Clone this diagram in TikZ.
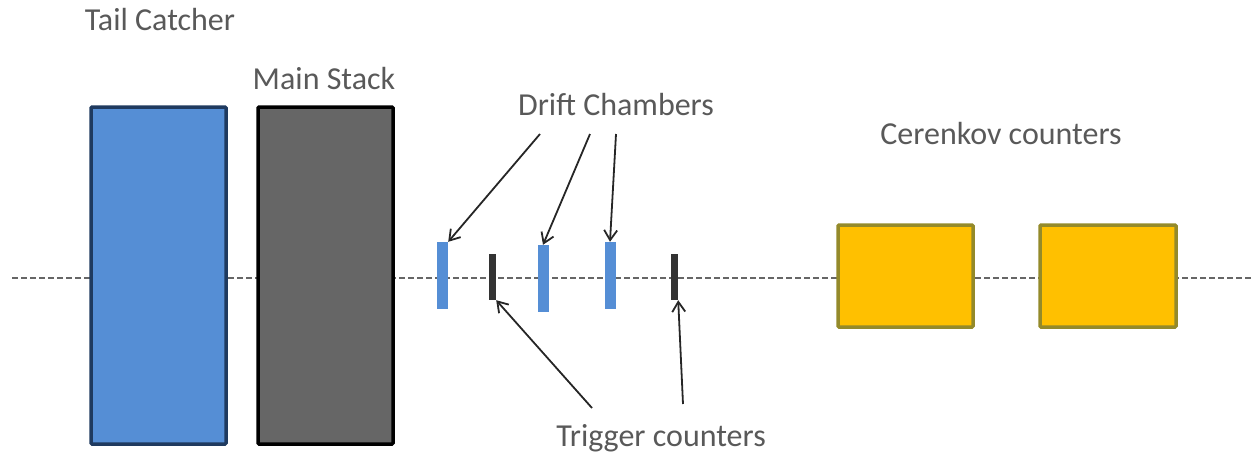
\documentclass[tikz,border=0pt]{standalone}
\usepackage{fontspec}
\setmainfont{Carlito}
\usetikzlibrary{arrows.meta}
\definecolor{txt}{HTML}{595959}
\definecolor{tcfill}{HTML}{558ED5}
\definecolor{tcline}{HTML}{1F3A5F}
\definecolor{msfill}{HTML}{666666}
\definecolor{dcblue}{HTML}{558ED5}
\definecolor{trig}{HTML}{333333}
\definecolor{cfill}{HTML}{FFC000}
\definecolor{cline}{HTML}{948A2A}
\tikzset{
  lbl/.style={text=txt, font=\fontsize{32}{38}\selectfont, anchor=base, inner sep=0pt},
  bigbox/.style={line width=3.5pt, rounded corners=1pt},
  bar/.style={draw=none, inner sep=0pt},
  ptr/.style={-{Straight Barb[length=10pt,width=13pt,line width=1.8pt]}, line width=1.8pt, black!85},
  axis/.style={dash pattern=on 6pt off 3pt, line width=2pt, black!60}
}
\begin{document}
\begin{tikzpicture}[x=1pt,y=-1pt]
\useasboundingbox (0,0) rectangle (1253,453);
\coordinate (axl) at (12,278);
\coordinate (axr) at (1253,278);
\draw[axis] (axl) -- (axr);
% big boxes
\draw[bigbox, draw=tcline, fill=tcfill] (91,107) rectangle (226,444);
\draw[bigbox, draw=black, fill=msfill] (258,107) rectangle (393,444);
\draw[bigbox, draw=cline, fill=cfill] (838,225) rectangle (973,327);
\draw[bigbox, draw=cline, fill=cfill] (1040,225) rectangle (1176,327);
% drift chambers
\node[bar, fill=dcblue, minimum width=11pt, minimum height=67pt] (dc1) at (442.5,275.5) {};
\node[bar, fill=dcblue, minimum width=11pt, minimum height=67pt] (dc2) at (543,278.5) {};
\node[bar, fill=dcblue, minimum width=11pt, minimum height=67pt] (dc3) at (610,275.5) {};
% trigger counters
\node[bar, fill=trig, minimum width=7pt, minimum height=46pt] (tr1) at (492.5,277) {};
\node[bar, fill=trig, minimum width=7pt, minimum height=46pt] (tr2) at (674.5,277) {};
% labels
\node[lbl] (ltc) at (160,30) {Tail Catcher};
\node[lbl] (lms) at (324,89) {Main Stack};
\node[lbl] (ldc) at (616,115) {Drift Chambers};
\node[lbl] (lcc) at (1001,144) {Cerenkov counters};
\node[lbl] (ltr) at (661,446) {Trigger counters};
% pointer start points
\coordinate (d1) at (540,134);
\coordinate (d2) at (590,134);
\coordinate (d3) at (616,134);
\coordinate (t1) at (592,408);
\coordinate (t2) at (683,404);
\draw[ptr] (d1) -- (dc1.north east);
\draw[ptr] (d2) -- (dc2.north);
\draw[ptr] (d3) -- (dc3.north);
\draw[ptr] (t1) -- (tr1.south east);
\draw[ptr] (t2) -- (tr2.south east);
\end{tikzpicture}
\end{document}
